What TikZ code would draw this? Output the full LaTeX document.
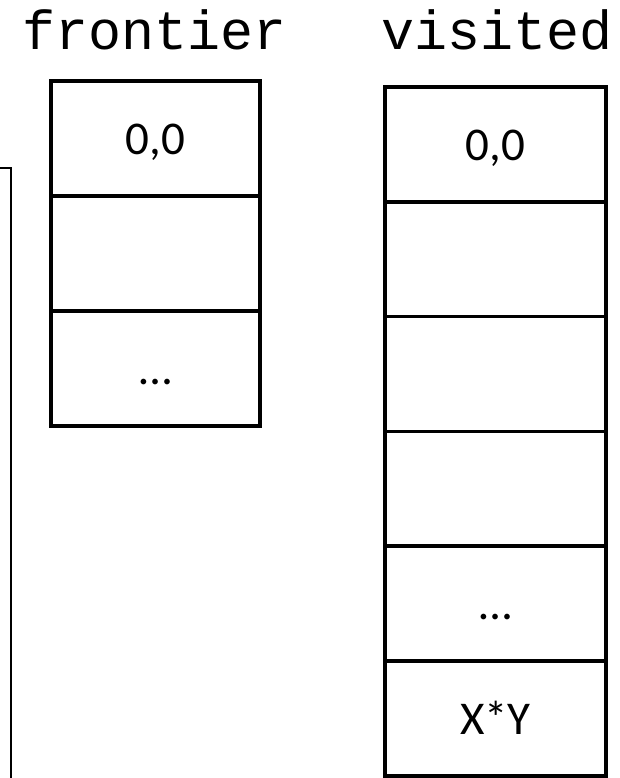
\documentclass[tikz,border=0pt]{standalone}
\usepackage{fontspec}
\setmainfont{Carlito}
\newfontfamily\codefont{Liberation Mono}
\usetikzlibrary{positioning}

\begin{document}
\begin{tikzpicture}[
    x=1pt, y=-1pt,
    cell/.style={rectangle, draw, line width=3.5pt, inner sep=0pt, outer sep=0pt,
                 text height=41pt, text depth=9pt,
                 font=\fontsize{47}{50}\selectfont},
    fcell/.style={cell, minimum width=209pt, minimum height=115pt},
    vcell/.style={cell, minimum width=221pt, minimum height=114.8pt},
    title/.style={anchor=base, font=\codefont\fontsize{55}{60}\selectfont}
]
\useasboundingbox (0,0) rectangle (620,778);

% titles
\node[title] (tf) at (155,50) {frontier};
\node[title] (tv) at (497,50) {visited};

% frontier
\node[fcell] (f1) at (155.5,138.5) {0,0};
\node[fcell, below=0pt of f1] (f2) {};
\node[fcell, below=0pt of f2] (f3) {…};

% visited
\node[vcell] (v1) at (495.5,144.4) {0,0};
\node[vcell, below=0pt of v1] (v2) {};
\node[vcell, below=0pt of v2] (v3) {};
\node[vcell, below=0pt of v3] (v4) {};
\node[vcell, below=0pt of v4] (v5) {…};
\node[vcell, below=0pt of v5] (v6) {X*Y};

% left box, cut off
\draw[line width=2.5pt] (0,168) -- (11,168) -- (11,778);
\end{tikzpicture}
\end{document}
